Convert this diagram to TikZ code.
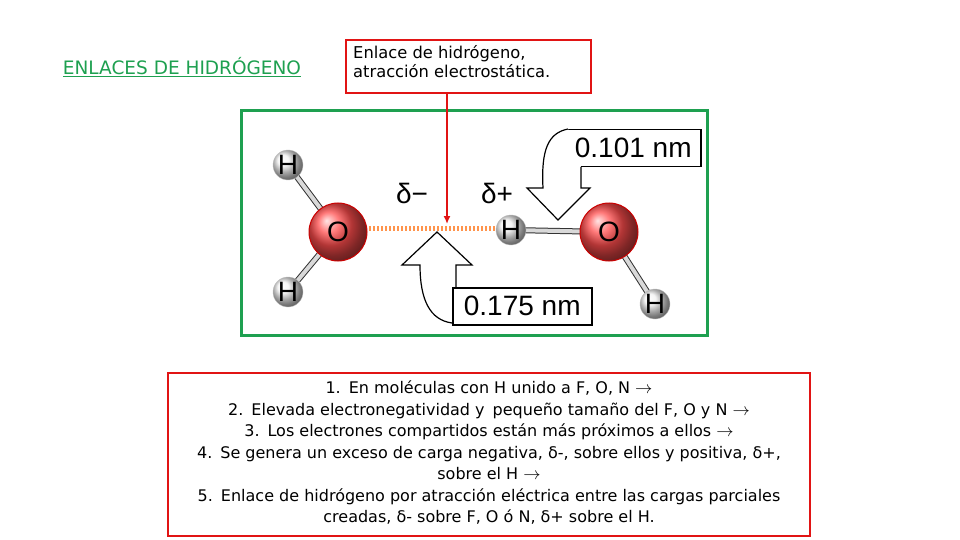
\documentclass[tikz,border=0pt]{standalone}
\usepackage{fontspec}
\setmainfont{DejaVu Sans}
\newfontfamily\lib{Liberation Sans}
\usetikzlibrary{shapes.geometric,arrows.meta}
\definecolor{rbox}{RGB}{225,20,20}
\definecolor{gbox}{RGB}{30,160,80}
\begin{document}
\begin{tikzpicture}[x=1pt,y=-1pt,
  redbox/.style={draw=rbox,line width=2.5pt},
  oatom/.style={circle,minimum size=58pt,draw=red!80!black,line width=1pt,ball color=red!70!white,inner sep=0pt,font=\lib\fontsize{28}{28}\selectfont},
  hatom/.style={circle,minimum size=30pt,draw=gray!50,ball color=gray!10,inner sep=0pt,font=\lib\fontsize{28}{28}\selectfont},
  bond/.style={double=gray!30,double distance=4pt,line width=1pt,draw=black!80},
  lbl/.style={font=\lib\fontsize{28}{28}\selectfont,inner sep=0pt},
  callout/.style={line width=1.2pt,draw=black}]
\useasboundingbox (0,0) rectangle (960,540);
\node[font=\fontsize{18.5}{19}\selectfont,text=gbox] (title) at (182,67) {\underline{ENLACES DE HIDRÓGENO}};
\draw[redbox] (346,40) rectangle (591,93);
\node[anchor=north west,align=left,font=\fontsize{16.3}{19}\selectfont,inner sep=0pt] (t1) at (353,45) {Enlace de hidrógeno,\\atracción electrostática.};
\coordinate (abot) at (447,93);
\draw[gbox,line width=3pt] (241,111) rectangle (707,335);
% bonds
\coordinate (o1) at (338,232); \coordinate (o2) at (609,232);
\coordinate (h1) at (288,165); \coordinate (h2) at (288,292);
\coordinate (h3) at (511,230); \coordinate (h4) at (655,304);
\draw[bond] (o1) -- (h1); \draw[bond] (o1) -- (h2);
\draw[bond] (o2) -- (h3); \draw[bond] (o2) -- (h4);
\draw[orange!80!red!70,line width=5pt,dash pattern=on 2pt off 2pt] (369,228) -- (495,228);
\node[hatom] (H1) at (h1) {H}; \node[hatom] (H2) at (h2) {H};
\node[hatom] (H3) at (h3) {H}; \node[hatom] (H4) at (h4) {H};
\node[oatom] (O1) at (o1) {O}; \node[oatom] (O2) at (o2) {O};
\node[lbl] (dm) at (412,193) {δ−};
\node[lbl] (dp) at (497,193) {δ+};
% callout 0.101
\node[draw,line width=1.5pt,lbl,anchor=north west,inner sep=3pt,minimum width=135pt,minimum height=37pt] (b1) at (565,129) {0.101 nm};
\draw[callout,fill=white] (568,129) .. controls (548,133) and (541,150) .. (543,188) -- (527,188) -- (558,220) -- (590,188) -- (581,188) -- (581,167);
% callout 0.175
\node[draw,line width=1.5pt,lbl,anchor=north west,inner sep=3pt,minimum width=139pt,minimum height=37pt] (b2) at (452,287) {0.175 nm};
\draw[callout] (452,323) .. controls (430,320) and (420,300) .. (420,265) -- (402,265) -- (437,232) -- (472,265) -- (456,265) -- (456,287);
\draw[rbox,line width=2pt,-{Latex[length=8pt,width=7pt]}] (abot) -- (447,224);
% bottom box
\draw[redbox] (168,373) rectangle (810,536);
\node[align=center,font=\fontsize{16}{21.5}\selectfont] (list) at (489,453) {1.\enspace En moléculas con H unido a F, O, N $\rightarrow$\\
2.\enspace Elevada electronegatividad y\enspace pequeño tamaño del F, O y N $\rightarrow$\\
3.\enspace Los electrones compartidos están más próximos a ellos $\rightarrow$\\
4.\enspace Se genera un exceso de carga negativa, δ-, sobre ellos y positiva, δ+,\\
sobre el H $\rightarrow$\\
5.\enspace Enlace de hidrógeno por atracción eléctrica entre las cargas parciales\\
creadas, δ- sobre F, O ó N, δ+ sobre el H.};
\end{tikzpicture}
\end{document}
